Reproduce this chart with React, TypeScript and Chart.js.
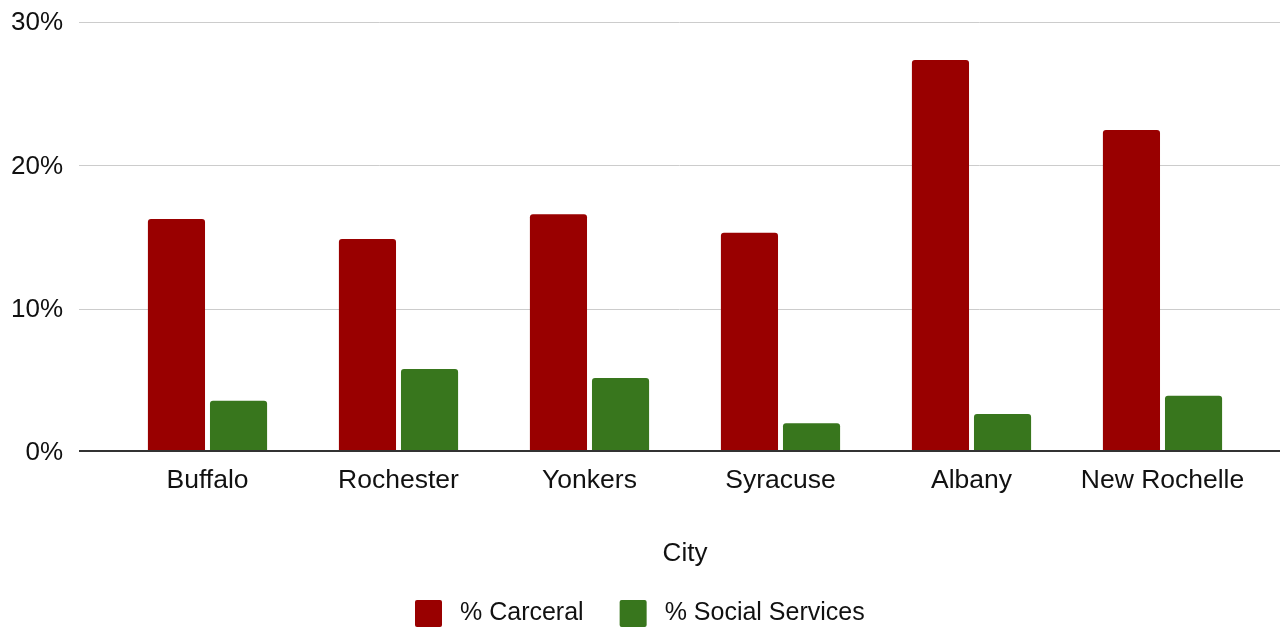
import React, { useEffect, useRef } from "react";
import { Chart, registerables } from "chart.js";

Chart.register(...registerables);

const cities = ["Buffalo", "Rochester", "Yonkers", "Syracuse", "Albany", "New Rochelle"];
const carceral = [16.26, 14.86, 16.59, 15.3, 27.35, 22.47];
const socialServices = [3.58, 5.79, 5.16, 2.0, 2.65, 3.93];
const seriesNames = ["% Carceral", "% Social Services"];
const seriesColors = ["#990000", "#38761d"];
const yTicks = [0, 10, 20, 30];
const xTitle = "City";

const FONT = "'Liberation Sans', Arial, sans-serif";
const TEXT = "#111111";

const decor = {
  id: "decor",
  beforeDatasetsDraw(chart: any) {
    const { ctx, scales } = chart;
    const y = scales.y;
    ctx.save();
    ctx.strokeStyle = "#cccccc";
    ctx.lineWidth = 1;
    ctx.font = `26px ${FONT}`;
    ctx.fillStyle = TEXT;
    ctx.textAlign = "right";
    ctx.textBaseline = "middle";
    y.ticks.forEach((t: any) => {
      const yp = y.getPixelForValue(t.value);
      ctx.fillText(`${t.value}%`, 63, yp + 1);
      if (t.value === 0) return;
      const py = Math.round(yp) + 0.5;
      ctx.beginPath();
      ctx.moveTo(79, py);
      ctx.lineTo(chart.width, py);
      ctx.stroke();
    });
    ctx.restore();
  },
  afterDatasetsDraw(chart: any) {
    const { ctx, scales } = chart;
    const y = scales.y;
    ctx.save();
    const by = y.getPixelForValue(0);
    ctx.strokeStyle = "#333333";
    ctx.lineWidth = 2;
    ctx.beginPath();
    ctx.moveTo(79, by - 1);
    ctx.lineTo(chart.width, by - 1);
    ctx.stroke();

    ctx.font = `25px ${FONT}`;
    const box = 27;
    const gapText = 18;
    const gapItem = 36;
    const items = chart.data.datasets.map((d: any) => ({
      label: d.label,
      color: d.backgroundColor,
      w: ctx.measureText(d.label).width,
    }));
    let total = 0;
    items.forEach((it: any, i: number) => {
      total += box + gapText + it.w + (i < items.length - 1 ? gapItem : 0);
    });
    let x = Math.round(chart.width / 2 - total / 2);
    const top = 600;
    items.forEach((it: any) => {
      ctx.fillStyle = it.color;
      ctx.beginPath();
      (ctx as any).roundRect(x, top, box, box, 2);
      ctx.fill();
      ctx.fillStyle = TEXT;
      ctx.textBaseline = "middle";
      ctx.textAlign = "left";
      ctx.fillText(it.label, x + box + gapText, top + 13.5);
      x += box + gapText + it.w + gapItem;
    });
    ctx.restore();
  },
};

export default function App() {
  const canvasRef = useRef<HTMLCanvasElement | null>(null);

  useEffect(() => {
    document.body.style.margin = "0";
    const canvas = canvasRef.current;
    if (!canvas) return;
    const chart = new Chart(canvas, {
      type: "bar",
      data: {
        labels: cities,
        datasets: [
          {
            label: seriesNames[0],
            data: carceral,
            backgroundColor: seriesColors[0],
            borderRadius: 3,
            borderSkipped: "start",
            categoryPercentage: 0.65,
            barPercentage: 0.92,
          },
          {
            label: seriesNames[1],
            data: socialServices,
            backgroundColor: seriesColors[1],
            borderRadius: 3,
            borderSkipped: "start",
            categoryPercentage: 0.65,
            barPercentage: 0.92,
          },
        ],
      },
      options: {
        responsive: false,
        animation: false,
        layout: { padding: { top: 22, right: 22, bottom: 0, left: 0 } },
        plugins: {
          legend: { display: false },
          tooltip: { enabled: false },
          title: { display: false },
        },
        scales: {
          x: {
            grid: { display: false, drawTicks: false },
            border: { display: false },
            ticks: {
              padding: 13,
              color: TEXT,
              font: { family: FONT, size: 26.5 },
              maxRotation: 0,
              autoSkip: false,
            },
            title: {
              display: true,
              text: xTitle,
              color: TEXT,
              font: { family: FONT, size: 26 },
              padding: { top: 0, bottom: 58 },
            },
            afterFit: (scale: any) => {
              scale.height = 175;
            },
          },
          y: {
            min: yTicks[0],
            max: yTicks[yTicks.length - 1],
            grid: { display: false, drawTicks: false },
            border: { display: false },
            afterBuildTicks: (scale: any) => {
              scale.ticks = yTicks.map((v) => ({ value: v }));
            },
            ticks: { display: false },
            afterFit: (scale: any) => {
              scale.width = 112;
            },
          },
        },
      },
      plugins: [decor],
    });
    return () => chart.destroy();
  }, []);

  return (
    <div style={{ width: 1280, height: 627, background: "#ffffff" }}>
      <canvas ref={canvasRef} width={1280} height={627} style={{ display: "block" }} />
    </div>
  );
}
